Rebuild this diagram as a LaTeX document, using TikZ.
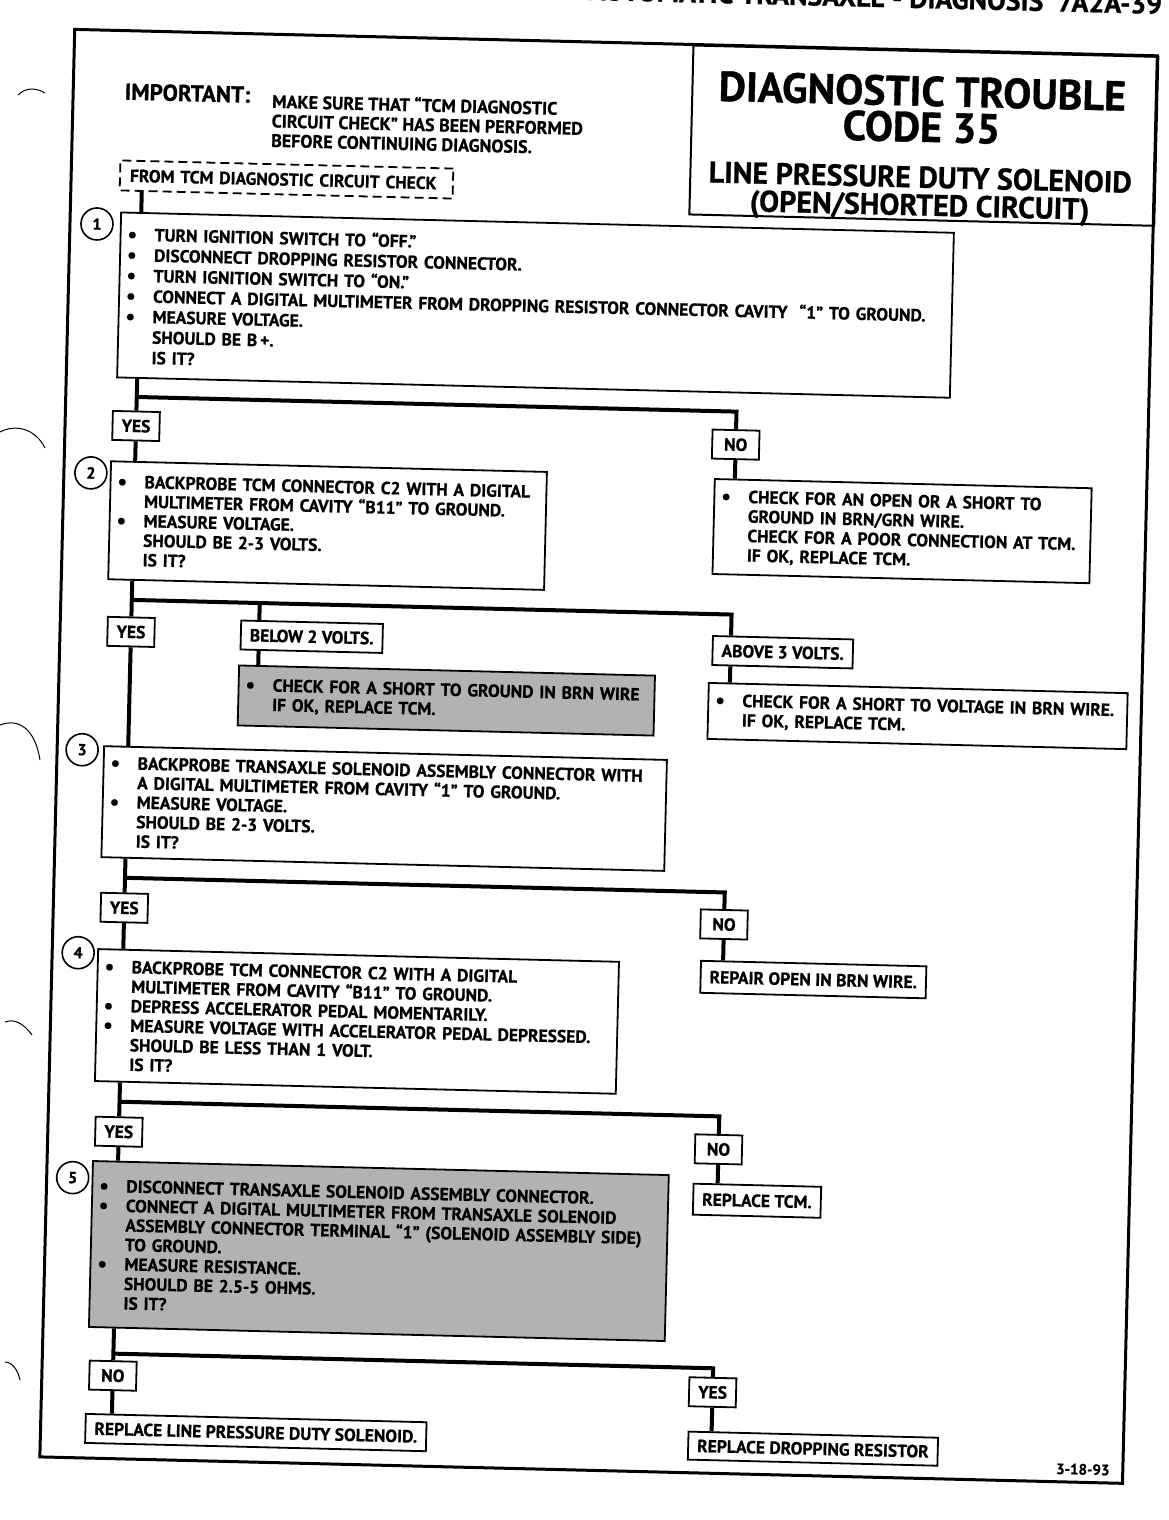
\documentclass[tikz,border=0pt]{standalone}
\usepackage{fontspec}
\setmainfont{PT Sans}[BoldFeatures={FakeBold=0.8}]
\usetikzlibrary{calc,positioning}

\newcommand\itm{\makebox[27pt][l]{\raisebox{-1pt}{\fontsize{21}{21}\selectfont\textbullet}}}
\newcommand\ind{\hspace*{27pt}}

\begin{document}
\begin{tikzpicture}[x=1pt,y=-1pt,
    font=\bfseries\fontsize{17.5}{19.5}\selectfont,
    frame/.style={line width=3pt},
    box/.style={draw,line width=1.8pt,anchor=north west,align=left,inner xsep=7pt,inner ysep=0pt},
    shaded/.style={box,fill=black!30},
    lbl/.style={draw,line width=1.8pt,anchor=north west,inner xsep=9pt,inner ysep=0pt,minimum height=29pt},
    tag/.style={draw,line width=1.8pt,minimum width=47pt,minimum height=29pt,inner sep=0pt},
    stepno/.style={draw,circle,line width=1.6pt,minimum size=32pt,inner sep=0pt,font=\bfseries\fontsize{16}{18}\selectfont},
    link/.style={line width=4pt},
  ]
    \fill[white] (0,0) rectangle (1168,1520);
    \useasboundingbox (0,0) rectangle (1168,1520);

    % binder holes at the left margin
    \draw[line width=1pt] (18,95) .. controls (25,88) and (35,87) .. (45,93);
    \draw[line width=1pt] (0,432) .. controls (15,424) and (35,428) .. (45,448);
    \draw[line width=1pt] (0,725) .. controls (18,718) and (35,728) .. (40,760);
    \draw[line width=1pt] (5,1022) .. controls (15,1018) and (25,1025) .. (32,1035);
    \draw[line width=1pt] (5,1362) .. controls (12,1362) and (18,1370) .. (20,1380);

    % the scanned page sits a little askew
    \begin{scope}[rotate around={-1.4:(584,760)},transform shape]

    \node[anchor=base east,font=\bfseries\fontsize{28}{30}\selectfont] (hdr) at (1147,0) {AUTOMATIC TRANSAXLE - DIAGNOSIS\ \ 7A2A-39};

    \draw[frame] (57,42) rectangle (1140,1470);

    % title block
    \node[draw,line width=2pt,anchor=north west,minimum width=465pt,minimum height=169pt] (title) at (675,42) {};
    \node[font=\bfseries\fontsize{42}{44}\selectfont] (t1) at (906,83) {DIAGNOSTIC TROUBLE};
    \node[font=\bfseries\fontsize{42}{44}\selectfont] (t2) at (906,119) {CODE 35};
    \node[font=\bfseries\fontsize{30}{32}\selectfont] (t3) at (906,169) {LINE PRESSURE DUTY SOLENOID};
    \node[font=\bfseries\fontsize{30}{32}\selectfont] (t4) at (906,200) {(OPEN/SHORTED CIRCUIT)};

    \node[anchor=west,font=\bfseries\fontsize{23}{26}\selectfont] (imp) at (105,103) {IMPORTANT:};
    \node[anchor=north west,align=left,inner sep=0pt,font=\bfseries\fontsize{18}{19.5}\selectfont] (note) at (256,101) {MAKE SURE THAT ``TCM DIAGNOSTIC\\CIRCUIT CHECK'' HAS BEEN PERFORMED\\BEFORE CONTINUING DIAGNOSIS.};

    \node[draw,dash pattern=on 9pt off 5pt,line width=1.8pt,anchor=north west,minimum width=333pt,minimum height=30pt,text width=313pt,inner xsep=10pt] (from) at (105,171) {FROM TCM DIAGNOSTIC CIRCUIT CHECK};

    \coordinate (trunk) at (128,0);
    \coordinate (drop) at (728,0);
    \coordinate (dlo) at (256,0);
    \coordinate (b1) at (0,408);
    \coordinate (b2) at (0,611);
    \coordinate (b3) at (0,889);
    \coordinate (b4) at (0,1113);
    \coordinate (b5) at (0,1365);

    % step 1
    \node[stepno] (n1) at (84,236) {1};
    \node[box,text width=819pt,minimum height=165pt,font=\bfseries\fontsize{17.5}{20.5}\selectfont] (s1) at (107,223)
      {\itm TURN IGNITION SWITCH TO ``OFF.''\\
       \itm DISCONNECT DROPPING RESISTOR CONNECTOR.\\
       \itm TURN IGNITION SWITCH TO ``ON.''\\
       \itm CONNECT A DIGITAL MULTIMETER FROM DROPPING RESISTOR CONNECTOR CAVITY\ \ ``1'' TO GROUND.\\
       \itm MEASURE VOLTAGE.\\
       \ind SHOULD BE B\,+.\\
       \ind IS IT?};
    \node[tag] (yes1) at (trunk |- 0,437) {YES};
    \node[tag] (no1) at (drop |- 0,441) {NO};
    \node[box,text width=363pt,minimum height=95pt] (r1) at (707,475)
      {\itm CHECK FOR AN OPEN OR A SHORT TO\\
       \ind GROUND IN BRN/GRN WIRE.\\
       \ind CHECK FOR A POOR CONNECTION AT TCM.\\
       \ind IF OK, REPLACE TCM.};

    % step 2
    \node[stepno] (n2) at (84,485) {2};
    \node[box,text width=422pt,minimum height=118pt] (s2) at (103,472)
      {\itm BACKPROBE TCM CONNECTOR C2 WITH A DIGITAL\\
       \ind MULTIMETER FROM CAVITY ``B11'' TO GROUND.\\
       \itm MEASURE VOLTAGE.\\
       \ind SHOULD BE 2-3 VOLTS.\\
       \ind IS IT?};
    \node[tag] (yes2) at (trunk |- 0,643) {YES};
    \node[lbl] (lo) at (237,628) {BELOW 2 VOLTS.};
    \node[shaded,text width=402pt,minimum height=60pt] (lor) at (236,673)
      {\itm CHECK FOR A SHORT TO GROUND IN BRN WIRE\\
       \ind IF OK, REPLACE TCM.};
    \node[lbl] (hi) at (709,632) {ABOVE 3 VOLTS.};
    \node[box,text width=405pt,minimum height=56pt] (hir) at (706,679)
      {\itm CHECK FOR A SHORT TO VOLTAGE IN BRN WIRE.\\
       \ind IF OK, REPLACE TCM.};

    % step 3
    \node[stepno] (n3) at (82,762) {3};
    \node[box,text width=549pt,minimum height=111pt] (s3) at (103,757)
      {\itm BACKPROBE TRANSAXLE SOLENOID ASSEMBLY CONNECTOR WITH\\
       \ind A DIGITAL MULTIMETER FROM CAVITY ``1'' TO GROUND.\\
       \itm MEASURE VOLTAGE.\\
       \ind SHOULD BE 2-3 VOLTS.\\
       \ind IS IT?};
    \node[tag] (yes3) at (trunk |- 0,919) {YES};
    \node[tag] (no3) at (drop |- 0,921) {NO};
    \node[lbl,minimum height=32pt] (r3) at (705,957) {REPAIR OPEN IN BRN WIRE.};

    % step 4
    \node[stepno] (n4) at (83,965) {4};
    \node[box,text width=507pt,minimum height=132pt] (s4) at (102,960)
      {\itm BACKPROBE TCM CONNECTOR C2 WITH A DIGITAL\\
       \ind MULTIMETER FROM CAVITY ``B11'' TO GROUND.\\
       \itm DEPRESS ACCELERATOR PEDAL MOMENTARILY.\\
       \itm MEASURE VOLTAGE WITH ACCELERATOR PEDAL DEPRESSED.\\
       \ind SHOULD BE LESS THAN 1 VOLT.\\
       \ind IS IT?};
    \node[tag] (yes4) at (trunk |- 0,1143) {YES};
    \node[tag] (no4) at (drop |- 0,1146) {NO};
    \node[lbl,minimum height=31pt] (r4) at (703,1180) {REPLACE TCM.};

    % step 5
    \node[stepno] (n5) at (83,1190) {5};
    \node[shaded,text width=562pt,minimum height=166pt] (s5) at (102,1172)
      {\itm DISCONNECT TRANSAXLE SOLENOID ASSEMBLY CONNECTOR.\\
       \itm CONNECT A DIGITAL MULTIMETER FROM TRANSAXLE SOLENOID\\
       \ind ASSEMBLY CONNECTOR TERMINAL ``1'' (SOLENOID ASSEMBLY SIDE)\\
       \ind TO GROUND.\\
       \itm MEASURE RESISTANCE.\\
       \ind SHOULD BE 2.5-5 OHMS.\\
       \ind IS IT?};
    \node[tag] (no5) at (trunk |- 0,1387) {NO};
    \node[tag] (yes5) at (drop |- 0,1389) {YES};
    \node[lbl] (r5a) at (101,1425) {REPLACE LINE PRESSURE DUTY SOLENOID.};
    \node[lbl,minimum height=28pt] (r5b) at (704,1428) {REPLACE DROPPING RESISTOR};

    \node[font=\bfseries\fontsize{15}{17}\selectfont] (date) at (1100,1457) {3-18-93};

    % connectors
    \draw[link] (from.south -| trunk) -- (s1.north -| trunk);
    \draw[link] (s1.south -| trunk) -- (yes1.north);
    \draw[link] (yes1.north |- b1) -| (no1.north);
    \draw[link] (yes1.south) -- (s2.north -| trunk);
    \draw[link] (no1.south) -- (r1.north -| drop);

    \draw[link] (s2.south -| trunk) -- (yes2.north);
    \draw[link] (yes2.north |- b2) -| (hi.north -| drop);
    \draw[link] (dlo |- b2) -- (lo.north -| dlo);
    \draw[link] (lo.south -| dlo) -- (lor.north -| dlo);
    \draw[link] (hi.south -| drop) -- (hir.north -| drop);
    \draw[link] (yes2.south) -- (s3.north -| trunk);

    \draw[link] (s3.south -| trunk) -- (yes3.north);
    \draw[link] (yes3.north |- b3) -| (no3.north);
    \draw[link] (no3.south) -- (r3.north -| drop);
    \draw[link] (yes3.south) -- (s4.north -| trunk);

    \draw[link] (s4.south -| trunk) -- (yes4.north);
    \draw[link] (yes4.north |- b4) -| (no4.north);
    \draw[link] (no4.south) -- (r4.north -| drop);
    \draw[link] (yes4.south) -- (s5.north -| trunk);

    \draw[link] (s5.south -| trunk) -- (no5.north);
    \draw[link] (no5.north |- b5) -| (yes5.north);
    \draw[link] (no5.south) -- (r5a.north -| trunk);
    \draw[link] (yes5.south) -- (r5b.north -| drop);
    \end{scope}
\end{tikzpicture}
\end{document}
